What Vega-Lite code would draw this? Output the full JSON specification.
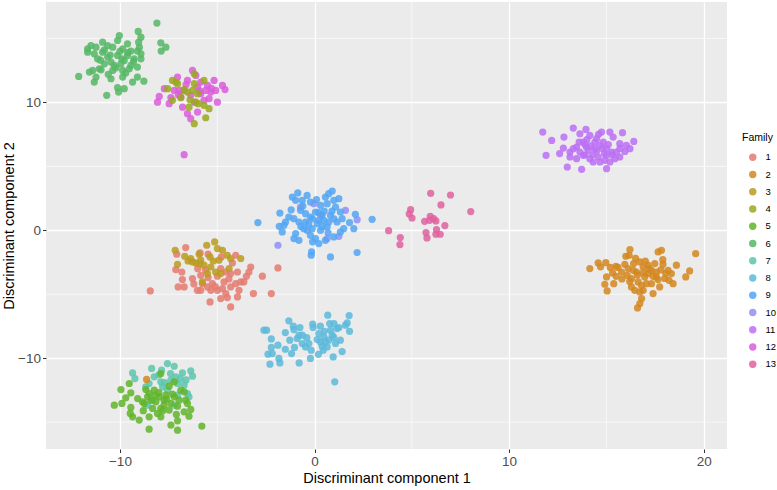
{
  "$schema": "https://vega.github.io/schema/vega-lite/v6.json",
  "width": 681,
  "height": 447,
  "autosize": {"type": "none"},
  "padding": {"left": 46, "top": 2, "right": 50, "bottom": 41},
  "background": "white",
  "config": {
    "font": "Liberation Sans",
    "view": {"fill": "#EBEBEB", "stroke": null},
    "axis": {
      "domain": false,
      "grid": true,
      "gridColor": "white",
      "gridWidth": 1.3,
      "tickColor": "#333333",
      "tickSize": 3.5,
      "tickWidth": 1,
      "labelColor": "#4D4D4D",
      "labelFontSize": 13.5,
      "labelPadding": 2,
      "titleFontSize": 14.5,
      "titleFontWeight": "normal",
      "titleColor": "black",
      "labelFlush": false
    }
  },
  "datasets": {
    "gx": [{"v": -5}, {"v": 5}, {"v": 15}],
    "gy": [{"v": -15}, {"v": -5}, {"v": 5}, {"v": 15}],
    "pts": [
      {"LD1": -1.88, "LD2": -1.17, "Family": 10}, {"LD1": -0.03, "LD2": 2.08, "Family": 10}, {"LD1": 1.59, "LD2": 1.56, "Family": 10}, {"LD1": 2.19, "LD2": 0.83, "Family": 10}, {"LD1": 0.31, "LD2": 1.17, "Family": 10}, {"LD1": 1.25, "LD2": -0.47, "Family": 10}, {"LD1": 0.65, "LD2": -0.65, "Family": 10}, {"LD1": -0.72, "LD2": 1.82, "Family": 10},
      {"LD1": -2.91, "LD2": 0.60, "Family": 9}, {"LD1": -1.78, "LD2": 1.35, "Family": 9}, {"LD1": -1.81, "LD2": 0.31, "Family": 9}, {"LD1": -1.66, "LD2": -0.13, "Family": 9}, {"LD1": -1.49, "LD2": 0.65, "Family": 9}, {"LD1": -1.32, "LD2": 1.04, "Family": 9}, {"LD1": -1.14, "LD2": 2.60, "Family": 9}, {"LD1": -0.86, "LD2": 2.92, "Family": 9}, {"LD1": -0.97, "LD2": 2.34, "Family": 9}, {"LD1": -0.63, "LD2": 2.34, "Family": 9}, {"LD1": -0.38, "LD2": 2.73, "Family": 9}, {"LD1": -0.21, "LD2": 2.21, "Family": 9}, {"LD1": -0.72, "LD2": 1.56, "Family": 9}, {"LD1": -0.46, "LD2": 1.30, "Family": 9}, {"LD1": -1.06, "LD2": 0.91, "Family": 9}, {"LD1": -0.80, "LD2": 0.65, "Family": 9}, {"LD1": -0.46, "LD2": 0.65, "Family": 9}, {"LD1": -0.21, "LD2": 1.04, "Family": 9}, {"LD1": 0.05, "LD2": 1.43, "Family": 9}, {"LD1": 0.31, "LD2": 1.95, "Family": 9}, {"LD1": 0.56, "LD2": 2.60, "Family": 9}, {"LD1": 0.73, "LD2": 2.86, "Family": 9}, {"LD1": 0.91, "LD2": 3.07, "Family": 9}, {"LD1": 0.65, "LD2": 2.08, "Family": 9}, {"LD1": 0.99, "LD2": 2.34, "Family": 9}, {"LD1": 1.25, "LD2": 2.47, "Family": 9}, {"LD1": 1.08, "LD2": 1.82, "Family": 9}, {"LD1": 1.33, "LD2": 1.43, "Family": 9}, {"LD1": 1.42, "LD2": 0.91, "Family": 9}, {"LD1": 1.16, "LD2": 0.65, "Family": 9}, {"LD1": 0.82, "LD2": 1.17, "Family": 9}, {"LD1": 0.48, "LD2": 0.78, "Family": 9}, {"LD1": 0.14, "LD2": 0.52, "Family": 9}, {"LD1": -0.12, "LD2": 0.13, "Family": 9}, {"LD1": -0.38, "LD2": 0.0, "Family": 9}, {"LD1": -0.97, "LD2": -0.26, "Family": 9}, {"LD1": -1.06, "LD2": -0.65, "Family": 9}, {"LD1": -0.80, "LD2": -0.78, "Family": 9}, {"LD1": -0.21, "LD2": -0.39, "Family": 9}, {"LD1": 0.05, "LD2": -0.65, "Family": 9}, {"LD1": 0.22, "LD2": -1.04, "Family": 9}, {"LD1": 0.56, "LD2": -0.78, "Family": 9}, {"LD1": 0.99, "LD2": -0.52, "Family": 9}, {"LD1": 1.33, "LD2": -0.13, "Family": 9}, {"LD1": 1.50, "LD2": 0.13, "Family": 9}, {"LD1": 2.02, "LD2": 0.13, "Family": 9}, {"LD1": 2.10, "LD2": 1.25, "Family": 9}, {"LD1": 2.96, "LD2": 0.86, "Family": 9}, {"LD1": -0.15, "LD2": -1.69, "Family": 9}, {"LD1": -0.17, "LD2": -1.95, "Family": 9}, {"LD1": 0.82, "LD2": -2.08, "Family": 9}, {"LD1": 2.19, "LD2": -1.74, "Family": 9}, {"LD1": 0.31, "LD2": 0.0, "Family": 9}, {"LD1": 0.65, "LD2": 0.26, "Family": 9}, {"LD1": -0.55, "LD2": 0.13, "Family": 9}, {"LD1": -1.57, "LD2": 0.39, "Family": 9}, {"LD1": 0.39, "LD2": 1.17, "Family": 9}, {"LD1": 0.22, "LD2": 0.78, "Family": 9}, {"LD1": 0.73, "LD2": 0.65, "Family": 9},
      {"LD1": -0.1, "LD2": 0.9, "Family": 9}, {"LD1": 0.2, "LD2": 1.4, "Family": 9}, {"LD1": 0.5, "LD2": 1.5, "Family": 9}, {"LD1": 0.1, "LD2": 2.4, "Family": 9}, {"LD1": -0.6, "LD2": 1.9, "Family": 9}, {"LD1": 0.9, "LD2": 1.5, "Family": 9}, {"LD1": -0.3, "LD2": 0.5, "Family": 9}, {"LD1": 0.4, "LD2": 0.3, "Family": 9}, {"LD1": 1.0, "LD2": 0.9, "Family": 9}, {"LD1": 0.7, "LD2": -0.2, "Family": 9}, {"LD1": -0.7, "LD2": 0.3, "Family": 9}, {"LD1": -0.1, "LD2": -0.9, "Family": 9}, {"LD1": 1.8, "LD2": 0.6, "Family": 9}, {"LD1": -1.2, "LD2": 1.6, "Family": 9},
      {"LD1": -9.35, "LD2": -11.15, "Family": 7}, {"LD1": -9.23, "LD2": -11.59, "Family": 7}, {"LD1": -8.37, "LD2": -10.80, "Family": 7}, {"LD1": -7.86, "LD2": -10.94, "Family": 7}, {"LD1": -7.56, "LD2": -10.42, "Family": 7}, {"LD1": -7.21, "LD2": -10.63, "Family": 7}, {"LD1": -6.79, "LD2": -11.15, "Family": 7}, {"LD1": -6.36, "LD2": -10.99, "Family": 7}, {"LD1": -6.27, "LD2": -11.41, "Family": 7}, {"LD1": -7.13, "LD2": -11.46, "Family": 7}, {"LD1": -7.38, "LD2": -11.72, "Family": 7}, {"LD1": -7.90, "LD2": -11.85, "Family": 7}, {"LD1": -8.24, "LD2": -11.46, "Family": 7}, {"LD1": -8.50, "LD2": -11.98, "Family": 7}, {"LD1": -8.67, "LD2": -12.24, "Family": 7}, {"LD1": -7.04, "LD2": -11.98, "Family": 7}, {"LD1": -6.70, "LD2": -12.11, "Family": 7}, {"LD1": -6.53, "LD2": -12.76, "Family": 7}, {"LD1": -6.45, "LD2": -13.02, "Family": 7}, {"LD1": -7.04, "LD2": -12.89, "Family": 7}, {"LD1": -7.81, "LD2": -12.24, "Family": 7}, {"LD1": -7.56, "LD2": -12.5, "Family": 7}, {"LD1": -8.58, "LD2": -13.67, "Family": 7}, {"LD1": -8.32, "LD2": -13.28, "Family": 7}, {"LD1": -7.21, "LD2": -13.67, "Family": 7},
      {"LD1": -7.4, "LD2": -11.2, "Family": 7}, {"LD1": -6.9, "LD2": -11.6, "Family": 7}, {"LD1": -8.0, "LD2": -11.3, "Family": 7}, {"LD1": -7.7, "LD2": -11.9, "Family": 7}, {"LD1": -6.6, "LD2": -11.7, "Family": 7},
      {"LD1": -9.95, "LD2": -12.45, "Family": 5}, {"LD1": -9.52, "LD2": -11.98, "Family": 5}, {"LD1": -9.44, "LD2": -12.71, "Family": 5}, {"LD1": -10.29, "LD2": -13.67, "Family": 5}, {"LD1": -9.90, "LD2": -13.54, "Family": 5}, {"LD1": -9.44, "LD2": -13.85, "Family": 5}, {"LD1": -9.47, "LD2": -14.32, "Family": 5}, {"LD1": -9.35, "LD2": -14.58, "Family": 5}, {"LD1": -9.01, "LD2": -14.84, "Family": 5}, {"LD1": -8.67, "LD2": -12.45, "Family": 5}, {"LD1": -8.50, "LD2": -12.76, "Family": 5}, {"LD1": -8.24, "LD2": -12.5, "Family": 5}, {"LD1": -7.90, "LD2": -11.20, "Family": 5}, {"LD1": -7.47, "LD2": -12.19, "Family": 5}, {"LD1": -7.21, "LD2": -11.85, "Family": 5}, {"LD1": -6.87, "LD2": -12.5, "Family": 5}, {"LD1": -6.70, "LD2": -12.63, "Family": 5}, {"LD1": -6.62, "LD2": -13.28, "Family": 5}, {"LD1": -6.53, "LD2": -13.54, "Family": 5}, {"LD1": -6.36, "LD2": -14.01, "Family": 5}, {"LD1": -6.45, "LD2": -14.53, "Family": 5}, {"LD1": -6.70, "LD2": -14.19, "Family": 5}, {"LD1": -7.04, "LD2": -13.75, "Family": 5}, {"LD1": -7.38, "LD2": -13.54, "Family": 5}, {"LD1": -7.73, "LD2": -13.28, "Family": 5}, {"LD1": -7.98, "LD2": -13.02, "Family": 5}, {"LD1": -8.15, "LD2": -13.41, "Family": 5}, {"LD1": -8.41, "LD2": -13.28, "Family": 5}, {"LD1": -8.75, "LD2": -13.54, "Family": 5}, {"LD1": -8.84, "LD2": -13.41, "Family": 5}, {"LD1": -7.90, "LD2": -13.93, "Family": 5}, {"LD1": -8.07, "LD2": -14.32, "Family": 5}, {"LD1": -7.90, "LD2": -14.58, "Family": 5}, {"LD1": -8.50, "LD2": -14.58, "Family": 5}, {"LD1": -7.04, "LD2": -14.90, "Family": 5}, {"LD1": -7.38, "LD2": -15.23, "Family": 5}, {"LD1": -7.04, "LD2": -15.63, "Family": 5}, {"LD1": -8.50, "LD2": -15.55, "Family": 5}, {"LD1": -5.79, "LD2": -15.31, "Family": 5}, {"LD1": -7.73, "LD2": -13.67, "Family": 5}, {"LD1": -7.64, "LD2": -12.89, "Family": 5}, {"LD1": -8.58, "LD2": -13.02, "Family": 5}, {"LD1": -7.21, "LD2": -13.02, "Family": 5}, {"LD1": -9.09, "LD2": -13.16, "Family": 5}, {"LD1": -8.32, "LD2": -13.93, "Family": 5}, {"LD1": -7.47, "LD2": -14.06, "Family": 5}, {"LD1": -6.96, "LD2": -13.28, "Family": 5},
      {"LD1": -7.6, "LD2": -13.2, "Family": 5}, {"LD1": -8.0, "LD2": -12.7, "Family": 5}, {"LD1": -7.3, "LD2": -12.8, "Family": 5}, {"LD1": -8.2, "LD2": -12.9, "Family": 5}, {"LD1": -7.8, "LD2": -14.1, "Family": 5}, {"LD1": -8.8, "LD2": -14.1, "Family": 5}, {"LD1": -7.1, "LD2": -14.4, "Family": 5}, {"LD1": -9.7, "LD2": -13.1, "Family": 5},
      {"LD1": -8.63, "LD2": -11.66, "Family": 2}, {"LD1": 14.15, "LD2": -2.99, "Family": 2}, {"LD1": 14.58, "LD2": -2.55, "Family": 2}, {"LD1": 14.97, "LD2": -2.53, "Family": 2}, {"LD1": 14.70, "LD2": -2.86, "Family": 2}, {"LD1": 15.49, "LD2": -2.81, "Family": 2}, {"LD1": 15.01, "LD2": -3.65, "Family": 2}, {"LD1": 14.92, "LD2": -4.22, "Family": 2}, {"LD1": 15.04, "LD2": -4.74, "Family": 2}, {"LD1": 15.38, "LD2": -4.17, "Family": 2}, {"LD1": 15.32, "LD2": -3.33, "Family": 2}, {"LD1": 15.78, "LD2": -3.26, "Family": 2}, {"LD1": 16.0, "LD2": -2.03, "Family": 2}, {"LD1": 16.21, "LD2": -1.51, "Family": 2}, {"LD1": 16.17, "LD2": -1.95, "Family": 2}, {"LD1": 15.95, "LD2": -2.66, "Family": 2}, {"LD1": 16.07, "LD2": -3.52, "Family": 2}, {"LD1": 16.29, "LD2": -3.77, "Family": 2}, {"LD1": 16.55, "LD2": -3.26, "Family": 2}, {"LD1": 16.72, "LD2": -2.47, "Family": 2}, {"LD1": 16.89, "LD2": -2.87, "Family": 2}, {"LD1": 17.14, "LD2": -2.73, "Family": 2}, {"LD1": 17.32, "LD2": -3.13, "Family": 2}, {"LD1": 17.49, "LD2": -2.60, "Family": 2}, {"LD1": 17.66, "LD2": -1.69, "Family": 2}, {"LD1": 17.83, "LD2": -1.56, "Family": 2}, {"LD1": 17.57, "LD2": -3.26, "Family": 2}, {"LD1": 17.91, "LD2": -2.66, "Family": 2}, {"LD1": 18.17, "LD2": -3.13, "Family": 2}, {"LD1": 18.60, "LD2": -2.73, "Family": 2}, {"LD1": 18.34, "LD2": -3.38, "Family": 2}, {"LD1": 18.22, "LD2": -3.91, "Family": 2}, {"LD1": 18.43, "LD2": -4.17, "Family": 2}, {"LD1": 18.0, "LD2": -3.77, "Family": 2}, {"LD1": 17.66, "LD2": -3.85, "Family": 2}, {"LD1": 17.32, "LD2": -4.17, "Family": 2}, {"LD1": 17.06, "LD2": -4.17, "Family": 2}, {"LD1": 16.89, "LD2": -4.69, "Family": 2}, {"LD1": 16.72, "LD2": -4.82, "Family": 2}, {"LD1": 16.46, "LD2": -4.69, "Family": 2}, {"LD1": 16.63, "LD2": -4.04, "Family": 2}, {"LD1": 16.97, "LD2": -3.65, "Family": 2}, {"LD1": 16.29, "LD2": -4.43, "Family": 2}, {"LD1": 16.81, "LD2": -5.34, "Family": 2}, {"LD1": 16.72, "LD2": -5.73, "Family": 2}, {"LD1": 16.60, "LD2": -6.07, "Family": 2}, {"LD1": 17.40, "LD2": -4.95, "Family": 2}, {"LD1": 17.74, "LD2": -4.43, "Family": 2}, {"LD1": 19.08, "LD2": -3.65, "Family": 2}, {"LD1": 19.28, "LD2": -3.18, "Family": 2}, {"LD1": 19.59, "LD2": -1.82, "Family": 2}, {"LD1": 16.38, "LD2": -3.13, "Family": 2}, {"LD1": 17.14, "LD2": -3.38, "Family": 2}, {"LD1": 17.57, "LD2": -3.65, "Family": 2}, {"LD1": 18.05, "LD2": -3.38, "Family": 2}, {"LD1": 16.12, "LD2": -2.99, "Family": 2},
      {"LD1": 15.6, "LD2": -2.9, "Family": 2}, {"LD1": 16.4, "LD2": -2.6, "Family": 2}, {"LD1": 16.6, "LD2": -3.5, "Family": 2}, {"LD1": 16.9, "LD2": -3.3, "Family": 2}, {"LD1": 17.2, "LD2": -3.0, "Family": 2}, {"LD1": 17.0, "LD2": -2.4, "Family": 2}, {"LD1": 16.5, "LD2": -2.2, "Family": 2}, {"LD1": 15.8, "LD2": -3.8, "Family": 2}, {"LD1": 16.2, "LD2": -4.0, "Family": 2}, {"LD1": 17.4, "LD2": -3.6, "Family": 2}, {"LD1": 17.8, "LD2": -3.1, "Family": 2}, {"LD1": 15.5, "LD2": -3.6, "Family": 2}, {"LD1": 16.8, "LD2": -4.3, "Family": 2}, {"LD1": 17.9, "LD2": -2.3, "Family": 2}, {"LD1": 15.2, "LD2": -2.9, "Family": 2},
      {"LD1": -6.27, "LD2": 12.5, "Family": 12}, {"LD1": -6.10, "LD2": 12.11, "Family": 12}, {"LD1": -7.04, "LD2": 11.98, "Family": 12}, {"LD1": -6.53, "LD2": 11.72, "Family": 12}, {"LD1": -5.85, "LD2": 11.59, "Family": 12}, {"LD1": -5.16, "LD2": 11.72, "Family": 12}, {"LD1": -4.73, "LD2": 11.33, "Family": 12}, {"LD1": -5.5, "LD2": 11.33, "Family": 12}, {"LD1": -6.01, "LD2": 11.2, "Family": 12}, {"LD1": -6.70, "LD2": 10.94, "Family": 12}, {"LD1": -7.21, "LD2": 10.94, "Family": 12}, {"LD1": -7.72, "LD2": 11.07, "Family": 12}, {"LD1": -7.98, "LD2": 10.47, "Family": 12}, {"LD1": -8.07, "LD2": 10.02, "Family": 12}, {"LD1": -7.47, "LD2": 9.9, "Family": 12}, {"LD1": -6.87, "LD2": 10.42, "Family": 12}, {"LD1": -6.36, "LD2": 10.55, "Family": 12}, {"LD1": -5.85, "LD2": 10.68, "Family": 12}, {"LD1": -5.33, "LD2": 10.81, "Family": 12}, {"LD1": -4.99, "LD2": 10.02, "Family": 12}, {"LD1": -5.42, "LD2": 10.29, "Family": 12}, {"LD1": -6.18, "LD2": 10.02, "Family": 12}, {"LD1": -6.78, "LD2": 9.63, "Family": 12}, {"LD1": -6.53, "LD2": 9.12, "Family": 12}, {"LD1": -6.36, "LD2": 8.73, "Family": 12}, {"LD1": -6.01, "LD2": 9.24, "Family": 12}, {"LD1": -6.96, "LD2": 10.94, "Family": 12}, {"LD1": -5.59, "LD2": 10.94, "Family": 12}, {"LD1": -5.08, "LD2": 10.94, "Family": 12}, {"LD1": -5.68, "LD2": 10.16, "Family": 12}, {"LD1": -7.38, "LD2": 10.37, "Family": 12}, {"LD1": -6.70, "LD2": 5.91, "Family": 12},
      {"LD1": -6.6, "LD2": 11.4, "Family": 12}, {"LD1": -5.3, "LD2": 11.1, "Family": 12}, {"LD1": -7.0, "LD2": 10.6, "Family": 12}, {"LD1": -5.9, "LD2": 10.9, "Family": 12}, {"LD1": -4.6, "LD2": 11.0, "Family": 12},
      {"LD1": -7.30, "LD2": 11.72, "Family": 4}, {"LD1": -7.13, "LD2": 11.59, "Family": 4}, {"LD1": -6.18, "LD2": 12.24, "Family": 4}, {"LD1": -5.68, "LD2": 11.72, "Family": 4}, {"LD1": -7.55, "LD2": 11.07, "Family": 4}, {"LD1": -7.04, "LD2": 11.46, "Family": 4}, {"LD1": -6.27, "LD2": 10.94, "Family": 4}, {"LD1": -6.01, "LD2": 10.68, "Family": 4}, {"LD1": -6.53, "LD2": 10.81, "Family": 4}, {"LD1": -7.30, "LD2": 10.16, "Family": 4}, {"LD1": -6.87, "LD2": 10.37, "Family": 4}, {"LD1": -6.10, "LD2": 10.02, "Family": 4}, {"LD1": -6.45, "LD2": 9.63, "Family": 4}, {"LD1": -5.68, "LD2": 9.77, "Family": 4}, {"LD1": -5.42, "LD2": 9.51, "Family": 4}, {"LD1": -5.59, "LD2": 8.8, "Family": 4}, {"LD1": -6.18, "LD2": 8.34, "Family": 4}, {"LD1": -5.98, "LD2": 9.9, "Family": 4}, {"LD1": -6.18, "LD2": 11.46, "Family": 4}, {"LD1": -6.7, "LD2": 11.0, "Family": 4}, {"LD1": -6.4, "LD2": 10.2, "Family": 4},
      {"LD1": -6.62, "LD2": -1.35, "Family": 1}, {"LD1": -7.08, "LD2": -1.87, "Family": 1}, {"LD1": -5.88, "LD2": -1.77, "Family": 1}, {"LD1": -5.47, "LD2": -1.87, "Family": 1}, {"LD1": -4.79, "LD2": -2.08, "Family": 1}, {"LD1": -4.05, "LD2": -1.95, "Family": 1}, {"LD1": -4.22, "LD2": -2.55, "Family": 1}, {"LD1": -3.28, "LD2": -2.87, "Family": 1}, {"LD1": -3.37, "LD2": -3.26, "Family": 1}, {"LD1": -2.68, "LD2": -3.59, "Family": 1}, {"LD1": -1.88, "LD2": -2.94, "Family": 1}, {"LD1": -7.13, "LD2": -3.07, "Family": 1}, {"LD1": -6.82, "LD2": -3.26, "Family": 1}, {"LD1": -6.79, "LD2": -3.85, "Family": 1}, {"LD1": -7.01, "LD2": -4.43, "Family": 1}, {"LD1": -6.70, "LD2": -4.43, "Family": 1}, {"LD1": -6.27, "LD2": -3.77, "Family": 1}, {"LD1": -5.85, "LD2": -3.52, "Family": 1}, {"LD1": -5.76, "LD2": -4.17, "Family": 1}, {"LD1": -5.47, "LD2": -3.70, "Family": 1}, {"LD1": -5.25, "LD2": -4.17, "Family": 1}, {"LD1": -4.99, "LD2": -3.59, "Family": 1}, {"LD1": -4.82, "LD2": -2.99, "Family": 1}, {"LD1": -4.56, "LD2": -3.26, "Family": 1}, {"LD1": -4.31, "LD2": -3.38, "Family": 1}, {"LD1": -3.96, "LD2": -3.26, "Family": 1}, {"LD1": -3.79, "LD2": -4.04, "Family": 1}, {"LD1": -4.05, "LD2": -4.17, "Family": 1}, {"LD1": -3.63, "LD2": -4.04, "Family": 1}, {"LD1": -4.65, "LD2": -4.04, "Family": 1}, {"LD1": -4.73, "LD2": -4.56, "Family": 1}, {"LD1": -4.99, "LD2": -4.69, "Family": 1}, {"LD1": -4.56, "LD2": -4.95, "Family": 1}, {"LD1": -4.82, "LD2": -5.34, "Family": 1}, {"LD1": -4.31, "LD2": -5.99, "Family": 1}, {"LD1": -4.48, "LD2": -5.26, "Family": 1}, {"LD1": -3.96, "LD2": -5.21, "Family": 1}, {"LD1": -3.88, "LD2": -4.69, "Family": 1}, {"LD1": -5.37, "LD2": -5.60, "Family": 1}, {"LD1": -5.85, "LD2": -4.69, "Family": 1}, {"LD1": -6.02, "LD2": -4.69, "Family": 1}, {"LD1": -5.33, "LD2": -4.69, "Family": 1}, {"LD1": -3.14, "LD2": -4.95, "Family": 1}, {"LD1": -2.22, "LD2": -4.95, "Family": 1}, {"LD1": -8.44, "LD2": -4.74, "Family": 1}, {"LD1": -5.5, "LD2": -4.43, "Family": 1}, {"LD1": -4.31, "LD2": -4.43, "Family": 1},
      {"LD1": -5.6, "LD2": -3.1, "Family": 1}, {"LD1": -5.1, "LD2": -4.4, "Family": 1}, {"LD1": -4.4, "LD2": -3.8, "Family": 1}, {"LD1": -6.2, "LD2": -4.2, "Family": 1}, {"LD1": -3.5, "LD2": -3.6, "Family": 1}, {"LD1": -6.0, "LD2": -3.0, "Family": 1},
      {"LD1": -7.16, "LD2": -1.56, "Family": 3}, {"LD1": -6.67, "LD2": -2.03, "Family": 3}, {"LD1": -6.36, "LD2": -2.21, "Family": 3}, {"LD1": -6.27, "LD2": -2.47, "Family": 3}, {"LD1": -6.10, "LD2": -2.55, "Family": 3}, {"LD1": -5.85, "LD2": -2.34, "Family": 3}, {"LD1": -5.54, "LD2": -1.17, "Family": 3}, {"LD1": -5.13, "LD2": -0.91, "Family": 3}, {"LD1": -4.99, "LD2": -1.43, "Family": 3}, {"LD1": -4.73, "LD2": -1.56, "Family": 3}, {"LD1": -4.48, "LD2": -1.95, "Family": 3}, {"LD1": -4.31, "LD2": -2.21, "Family": 3}, {"LD1": -3.79, "LD2": -2.21, "Family": 3}, {"LD1": -5.37, "LD2": -2.08, "Family": 3}, {"LD1": -5.68, "LD2": -2.73, "Family": 3}, {"LD1": -5.33, "LD2": -2.87, "Family": 3}, {"LD1": -5.08, "LD2": -3.26, "Family": 3}, {"LD1": -4.82, "LD2": -3.38, "Family": 3}, {"LD1": -5.76, "LD2": -4.04, "Family": 3}, {"LD1": -7.04, "LD2": -2.66, "Family": 3}, {"LD1": -5.5, "LD2": -3.38, "Family": 3}, {"LD1": -4.91, "LD2": -2.34, "Family": 3}, {"LD1": -4.39, "LD2": -2.99, "Family": 3}, {"LD1": -5.93, "LD2": -1.87, "Family": 3},
      {"LD1": -5.9, "LD2": -2.6, "Family": 3}, {"LD1": -5.2, "LD2": -2.4, "Family": 3}, {"LD1": -6.5, "LD2": -2.4, "Family": 3},
      {"LD1": -8.10, "LD2": 16.2, "Family": 6}, {"LD1": -9.06, "LD2": 15.55, "Family": 6}, {"LD1": -8.92, "LD2": 15.1, "Family": 6}, {"LD1": -10.03, "LD2": 15.23, "Family": 6}, {"LD1": -10.12, "LD2": 14.84, "Family": 6}, {"LD1": -9.04, "LD2": 14.71, "Family": 6}, {"LD1": -10.89, "LD2": 14.71, "Family": 6}, {"LD1": -11.49, "LD2": 14.45, "Family": 6}, {"LD1": -11.66, "LD2": 14.19, "Family": 6}, {"LD1": -11.23, "LD2": 14.32, "Family": 6}, {"LD1": -10.63, "LD2": 14.45, "Family": 6}, {"LD1": -9.61, "LD2": 14.58, "Family": 6}, {"LD1": -7.90, "LD2": 14.66, "Family": 6}, {"LD1": -7.64, "LD2": 14.32, "Family": 6}, {"LD1": -7.88, "LD2": 14.01, "Family": 6}, {"LD1": -9.1, "LD2": 14.01, "Family": 6}, {"LD1": -8.92, "LD2": 13.8, "Family": 6}, {"LD1": -9.44, "LD2": 14.01, "Family": 6}, {"LD1": -9.86, "LD2": 14.19, "Family": 6}, {"LD1": -10.37, "LD2": 14.32, "Family": 6}, {"LD1": -10.89, "LD2": 13.93, "Family": 6}, {"LD1": -11.32, "LD2": 13.8, "Family": 6}, {"LD1": -11.66, "LD2": 13.93, "Family": 6}, {"LD1": -11.15, "LD2": 13.41, "Family": 6}, {"LD1": -10.63, "LD2": 13.54, "Family": 6}, {"LD1": -10.12, "LD2": 13.67, "Family": 6}, {"LD1": -9.61, "LD2": 13.67, "Family": 6}, {"LD1": -9.27, "LD2": 13.41, "Family": 6}, {"LD1": -8.92, "LD2": 13.41, "Family": 6}, {"LD1": -9.78, "LD2": 13.28, "Family": 6}, {"LD1": -10.46, "LD2": 13.15, "Family": 6}, {"LD1": -10.80, "LD2": 13.02, "Family": 6}, {"LD1": -10.29, "LD2": 12.89, "Family": 6}, {"LD1": -9.95, "LD2": 13.02, "Family": 6}, {"LD1": -9.44, "LD2": 12.89, "Family": 6}, {"LD1": -11.06, "LD2": 12.63, "Family": 6}, {"LD1": -11.40, "LD2": 12.5, "Family": 6}, {"LD1": -11.57, "LD2": 12.37, "Family": 6}, {"LD1": -10.97, "LD2": 12.55, "Family": 6}, {"LD1": -10.37, "LD2": 12.5, "Family": 6}, {"LD1": -9.86, "LD2": 12.5, "Family": 6}, {"LD1": -9.52, "LD2": 12.63, "Family": 6}, {"LD1": -9.1, "LD2": 12.76, "Family": 6}, {"LD1": -12.12, "LD2": 12.03, "Family": 6}, {"LD1": -11.23, "LD2": 11.98, "Family": 6}, {"LD1": -10.46, "LD2": 11.85, "Family": 6}, {"LD1": -9.86, "LD2": 11.98, "Family": 6}, {"LD1": -9.1, "LD2": 11.98, "Family": 6}, {"LD1": -8.77, "LD2": 11.66, "Family": 6}, {"LD1": -9.35, "LD2": 11.59, "Family": 6}, {"LD1": -11.32, "LD2": 11.59, "Family": 6}, {"LD1": -10.12, "LD2": 11.15, "Family": 6}, {"LD1": -9.78, "LD2": 11.07, "Family": 6}, {"LD1": -10.07, "LD2": 10.81, "Family": 6}, {"LD1": -10.68, "LD2": 10.55, "Family": 6},
      {"LD1": -10.0, "LD2": 14.0, "Family": 6}, {"LD1": -10.5, "LD2": 13.7, "Family": 6}, {"LD1": -9.6, "LD2": 13.9, "Family": 6}, {"LD1": -9.3, "LD2": 13.2, "Family": 6}, {"LD1": -10.8, "LD2": 14.1, "Family": 6}, {"LD1": -10.2, "LD2": 12.7, "Family": 6}, {"LD1": -9.9, "LD2": 13.4, "Family": 6}, {"LD1": -9.0, "LD2": 14.3, "Family": 6}, {"LD1": -11.0, "LD2": 13.3, "Family": 6}, {"LD1": -10.6, "LD2": 12.2, "Family": 6}, {"LD1": -9.7, "LD2": 12.3, "Family": 6},
      {"LD1": -2.60, "LD2": -7.81, "Family": 8}, {"LD1": -2.46, "LD2": -7.81, "Family": 8}, {"LD1": -2.22, "LD2": -8.49, "Family": 8}, {"LD1": -1.88, "LD2": -8.98, "Family": 8}, {"LD1": -2.22, "LD2": -9.16, "Family": 8}, {"LD1": -2.39, "LD2": -9.69, "Family": 8}, {"LD1": -2.29, "LD2": -10.47, "Family": 8}, {"LD1": -1.78, "LD2": -10.37, "Family": 8}, {"LD1": -1.83, "LD2": -10.02, "Family": 8}, {"LD1": -2.17, "LD2": -9.64, "Family": 8}, {"LD1": -1.32, "LD2": -7.08, "Family": 8}, {"LD1": -1.09, "LD2": -7.5, "Family": 8}, {"LD1": -1.06, "LD2": -7.76, "Family": 8}, {"LD1": -0.75, "LD2": -7.6, "Family": 8}, {"LD1": -0.63, "LD2": -8.20, "Family": 8}, {"LD1": -0.89, "LD2": -8.46, "Family": 8}, {"LD1": -1.27, "LD2": -8.59, "Family": 8}, {"LD1": -1.03, "LD2": -9.16, "Family": 8}, {"LD1": -1.18, "LD2": -9.64, "Family": 8}, {"LD1": -0.63, "LD2": -8.85, "Family": 8}, {"LD1": -0.29, "LD2": -8.85, "Family": 8}, {"LD1": -0.17, "LD2": -9.38, "Family": 8}, {"LD1": -0.21, "LD2": -10.02, "Family": 8}, {"LD1": -0.79, "LD2": -10.37, "Family": 8}, {"LD1": -0.09, "LD2": -7.34, "Family": 8}, {"LD1": -0.07, "LD2": -7.6, "Family": 8}, {"LD1": 0.22, "LD2": -8.07, "Family": 8}, {"LD1": 0.31, "LD2": -8.73, "Family": 8}, {"LD1": 0.14, "LD2": -8.54, "Family": 8}, {"LD1": 0.48, "LD2": -8.33, "Family": 8}, {"LD1": 0.56, "LD2": -8.73, "Family": 8}, {"LD1": 0.65, "LD2": -9.12, "Family": 8}, {"LD1": 0.45, "LD2": -9.38, "Family": 8}, {"LD1": 0.68, "LD2": -6.64, "Family": 8}, {"LD1": 0.78, "LD2": -7.29, "Family": 8}, {"LD1": 0.82, "LD2": -7.81, "Family": 8}, {"LD1": 0.91, "LD2": -8.20, "Family": 8}, {"LD1": 1.08, "LD2": -8.85, "Family": 8}, {"LD1": 1.16, "LD2": -7.68, "Family": 8}, {"LD1": 1.33, "LD2": -8.59, "Family": 8}, {"LD1": 1.42, "LD2": -9.48, "Family": 8}, {"LD1": 0.96, "LD2": -9.90, "Family": 8}, {"LD1": 1.59, "LD2": -7.42, "Family": 8}, {"LD1": 1.68, "LD2": -7.24, "Family": 8}, {"LD1": 1.78, "LD2": -6.67, "Family": 8}, {"LD1": 1.25, "LD2": -7.6, "Family": 8}, {"LD1": 0.73, "LD2": -8.59, "Family": 8}, {"LD1": 0.39, "LD2": -9.06, "Family": 8}, {"LD1": 1.04, "LD2": -11.85, "Family": 8}, {"LD1": -0.80, "LD2": -8.20, "Family": 8}, {"LD1": -0.46, "LD2": -9.12, "Family": 8}, {"LD1": 0.99, "LD2": -8.38, "Family": 8},
      {"LD1": -1.5, "LD2": -8.0, "Family": 8}, {"LD1": 0.3, "LD2": -7.5, "Family": 8}, {"LD1": 1.0, "LD2": -7.3, "Family": 8}, {"LD1": 0.5, "LD2": -7.9, "Family": 8}, {"LD1": -0.4, "LD2": -8.4, "Family": 8}, {"LD1": -1.5, "LD2": -9.3, "Family": 8}, {"LD1": 0.2, "LD2": -9.7, "Family": 8}, {"LD1": 1.8, "LD2": -7.9, "Family": 8},
      {"LD1": 11.73, "LD2": 7.68, "Family": 11}, {"LD1": 12.19, "LD2": 7.03, "Family": 11}, {"LD1": 11.90, "LD2": 5.86, "Family": 11}, {"LD1": 12.82, "LD2": 7.29, "Family": 11}, {"LD1": 13.30, "LD2": 7.99, "Family": 11}, {"LD1": 13.64, "LD2": 7.55, "Family": 11}, {"LD1": 13.95, "LD2": 7.89, "Family": 11}, {"LD1": 12.79, "LD2": 6.43, "Family": 11}, {"LD1": 12.99, "LD2": 4.95, "Family": 11}, {"LD1": 13.73, "LD2": 4.77, "Family": 11}, {"LD1": 13.13, "LD2": 6.12, "Family": 11}, {"LD1": 13.47, "LD2": 6.51, "Family": 11}, {"LD1": 13.81, "LD2": 6.90, "Family": 11}, {"LD1": 14.15, "LD2": 7.42, "Family": 11}, {"LD1": 14.50, "LD2": 7.16, "Family": 11}, {"LD1": 14.75, "LD2": 7.68, "Family": 11}, {"LD1": 15.18, "LD2": 7.68, "Family": 11}, {"LD1": 15.35, "LD2": 7.29, "Family": 11}, {"LD1": 15.83, "LD2": 7.63, "Family": 11}, {"LD1": 16.41, "LD2": 6.95, "Family": 11}, {"LD1": 16.03, "LD2": 6.64, "Family": 11}, {"LD1": 15.69, "LD2": 6.77, "Family": 11}, {"LD1": 16.21, "LD2": 6.38, "Family": 11}, {"LD1": 15.95, "LD2": 6.17, "Family": 11}, {"LD1": 15.69, "LD2": 5.73, "Family": 11}, {"LD1": 15.27, "LD2": 6.12, "Family": 11}, {"LD1": 15.01, "LD2": 6.38, "Family": 11}, {"LD1": 14.67, "LD2": 6.64, "Family": 11}, {"LD1": 14.41, "LD2": 6.38, "Family": 11}, {"LD1": 14.07, "LD2": 6.25, "Family": 11}, {"LD1": 13.81, "LD2": 5.86, "Family": 11}, {"LD1": 13.47, "LD2": 5.60, "Family": 11}, {"LD1": 13.13, "LD2": 5.73, "Family": 11}, {"LD1": 13.64, "LD2": 6.12, "Family": 11}, {"LD1": 14.15, "LD2": 5.60, "Family": 11}, {"LD1": 14.58, "LD2": 5.73, "Family": 11}, {"LD1": 14.92, "LD2": 5.47, "Family": 11}, {"LD1": 15.18, "LD2": 5.34, "Family": 11}, {"LD1": 15.01, "LD2": 4.82, "Family": 11}, {"LD1": 14.32, "LD2": 5.34, "Family": 11}, {"LD1": 14.67, "LD2": 5.34, "Family": 11}, {"LD1": 15.52, "LD2": 6.12, "Family": 11}, {"LD1": 13.98, "LD2": 6.51, "Family": 11}, {"LD1": 14.84, "LD2": 6.90, "Family": 11}, {"LD1": 15.44, "LD2": 5.60, "Family": 11}, {"LD1": 14.41, "LD2": 6.90, "Family": 11}, {"LD1": 15.01, "LD2": 5.86, "Family": 11}, {"LD1": 13.30, "LD2": 6.38, "Family": 11},
      {"LD1": 13.9, "LD2": 6.7, "Family": 11}, {"LD1": 14.2, "LD2": 6.6, "Family": 11}, {"LD1": 14.5, "LD2": 6.2, "Family": 11}, {"LD1": 14.8, "LD2": 6.4, "Family": 11}, {"LD1": 15.1, "LD2": 6.7, "Family": 11}, {"LD1": 14.3, "LD2": 5.9, "Family": 11}, {"LD1": 13.9, "LD2": 5.9, "Family": 11}, {"LD1": 15.3, "LD2": 5.9, "Family": 11}, {"LD1": 14.6, "LD2": 7.5, "Family": 11}, {"LD1": 13.6, "LD2": 6.9, "Family": 11}, {"LD1": 14.9, "LD2": 6.0, "Family": 11}, {"LD1": 15.7, "LD2": 6.4, "Family": 11}, {"LD1": 12.6, "LD2": 6.0, "Family": 11}, {"LD1": 14.0, "LD2": 7.1, "Family": 11},
      {"LD1": 5.97, "LD2": 2.89, "Family": 13}, {"LD1": 6.99, "LD2": 2.76, "Family": 13}, {"LD1": 6.50, "LD2": 1.98, "Family": 13}, {"LD1": 8.03, "LD2": 1.46, "Family": 13}, {"LD1": 4.94, "LD2": 1.61, "Family": 13}, {"LD1": 4.87, "LD2": 1.28, "Family": 13}, {"LD1": 5.01, "LD2": 0.96, "Family": 13}, {"LD1": 5.66, "LD2": 0.70, "Family": 13}, {"LD1": 5.95, "LD2": 1.09, "Family": 13}, {"LD1": 5.91, "LD2": 0.78, "Family": 13}, {"LD1": 6.24, "LD2": 0.73, "Family": 13}, {"LD1": 6.70, "LD2": 0.37, "Family": 13}, {"LD1": 3.81, "LD2": -0.03, "Family": 13}, {"LD1": 4.41, "LD2": -0.57, "Family": 13}, {"LD1": 4.39, "LD2": -1.12, "Family": 13}, {"LD1": 5.73, "LD2": -0.18, "Family": 13}, {"LD1": 5.78, "LD2": -0.60, "Family": 13}, {"LD1": 6.27, "LD2": 0.05, "Family": 13}, {"LD1": 6.24, "LD2": -0.31, "Family": 13}, {"LD1": 6.46, "LD2": -0.31, "Family": 13}, {"LD1": 6.12, "LD2": 0.91, "Family": 13}
    ]
  },
  "layer": [
    {
      "data": {"name": "gx"},
      "mark": {"type": "rule", "stroke": "white", "strokeWidth": 0.65},
      "encoding": {
        "x": {"field": "v", "type": "quantitative", "title": "Discriminant component 1"}
      }
    },
    {
      "data": {"name": "gy"},
      "mark": {"type": "rule", "stroke": "white", "strokeWidth": 0.65},
      "encoding": {
        "y": {"field": "v", "type": "quantitative", "title": "Discriminant component 2"}
      }
    },
    {
      "data": {"name": "pts"},
      "mark": {"type": "circle", "size": 52, "opacity": 0.85},
      "encoding": {
        "x": {
          "field": "LD1", "type": "quantitative", "title": "Discriminant component 1",
          "scale": {"domain": [-13.8, 21.2], "nice": false, "zero": false},
          "axis": {"values": [-10, 0, 10, 20], "titlePadding": 3}
        },
        "y": {
          "field": "LD2", "type": "quantitative", "title": "Discriminant component 2",
          "scale": {"domain": [-17.1, 17.85], "nice": false, "zero": false},
          "axis": {"values": [-10, 0, 10], "titlePadding": 1}
        },
        "color": {
          "field": "Family", "type": "ordinal",
          "scale": {
            "domain": [1, 2, 3, 4, 5, 6, 7, 8, 9, 10, 11, 12, 13],
            "range": ["#E57A70", "#D4871E", "#BB9B1E", "#9BA81E", "#62B52A", "#55B765", "#5CC6AE", "#5CBADB", "#52A6F5", "#8F8FF8", "#BC70F4", "#DA5CDA", "#DF62A0"]
          },
          "legend": {
            "title": "Family",
            "orient": "none",
            "legendX": 696,
            "legendY": 131,
            "padding": 0,
            "symbolType": "circle",
            "symbolSize": 55,
            "symbolOpacity": 0.85,
            "symbolStrokeWidth": 0,
            "symbolOffset": 6,
            "labelFontSize": 9.5,
            "labelColor": "black",
            "labelOffset": 8,
            "titleFontSize": 10.5,
            "titleFontWeight": "normal",
            "titleColor": "black",
            "titlePadding": 9,
            "rowPadding": 6.25
          }
        }
      }
    }
  ]
}
